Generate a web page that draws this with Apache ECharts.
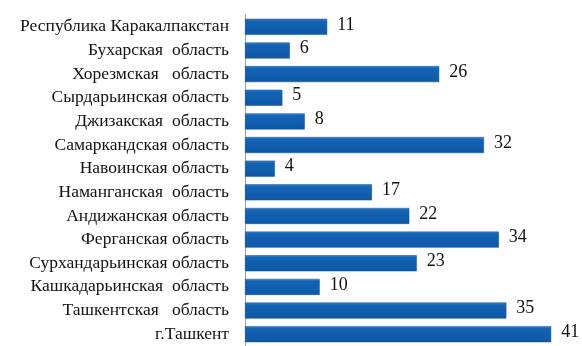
<!DOCTYPE html>
<html>
<head>
<meta charset="utf-8">
<script src="https://cdn.jsdelivr.net/npm/echarts@6/dist/echarts.min.js"></script>
<style>
  html, body { margin: 0; padding: 0; background: #fff; }
  #chart { width: 582px; height: 346px; }
</style>
</head>
<body>
<div id="chart"></div>
<script>
  // регионы сверху вниз
  const regions = [
    'Республика Каракалпакстан',
    'Бухарская  область',
    'Хорезмская   область',
    'Сырдарьинская область',
    'Джизакская  область',
    'Самаркандская область',
    'Навоинская область',
    'Наманганская  область',
    'Андижанская область',
    'Ферганская область',
    'Сурхандарьинская область',
    'Кашкадарьинская  область',
    'Ташкентская   область',
    'г.Ташкент'
  ];
  const counts = [11, 6, 26, 5, 8, 32, 4, 17, 22, 34, 23, 10, 35, 41];

  const myChart = echarts.init(document.getElementById('chart'));
  myChart.setOption({
    animation: false,
    grid: { left: 245, right: 1, top: 15, height: 335 },
    xAxis: {
      type: 'value',
      min: 0,
      max: 45,
      show: false
    },
    yAxis: {
      type: 'category',
      inverse: true,
      data: regions,
      axisLine: { lineStyle: { color: '#a0a0a0', width: 1 } },
      axisTick: { length: 5, lineStyle: { color: '#b08050' } },
      axisLabel: {
        fontFamily: 'Liberation Serif',
        fontSize: 17.5,
        color: '#111',
        margin: 16
      }
    },
    series: [{
      type: 'bar',
      data: counts,
      barWidth: 16,
      itemStyle: {
        color: new echarts.graphic.LinearGradient(0, 0, 0, 1, [
          { offset: 0, color: '#3a86d0' },
          { offset: 0.15, color: '#1463b5' },
          { offset: 1, color: '#0e58a6' }
        ]),
        borderColor: '#0b4c92',
        borderWidth: 0.5
      },
      label: {
        show: true,
        position: 'right',
        distance: 10,
        offset: [0, -2],
        fontFamily: 'Liberation Serif',
        fontSize: 18,
        color: '#111'
      }
    }]
  });
</script>
</body>
</html>
